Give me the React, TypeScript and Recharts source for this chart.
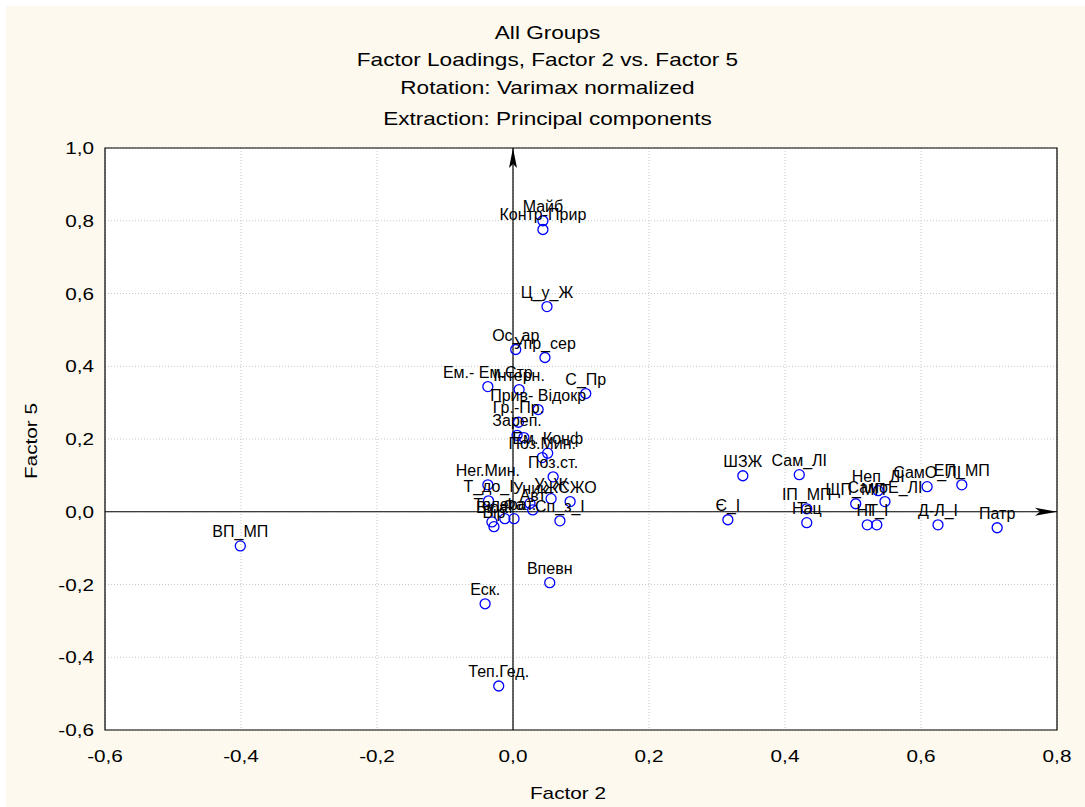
import {
  CartesianGrid,
  ReferenceArea,
  ReferenceLine,
  Scatter,
  ScatterChart,
  XAxis,
  YAxis,
} from "recharts";

// Variable names, Factor 2 loading (x), Factor 5 loading (y).
const names = [
  "Майб", "Контр-Прир", "Ц_у_Ж", "Ос_ар", "Упр_сер", "Ем.- Ем.Стр", "Інтерн.",
  "С_Пр", "Прив- Відокр", "Гр.-Пр.", "Зареп.", "", "Ем. Конф", "Поз.Мин.",
  "Поз.ст.", "Нег.Мин.", "Т_до_І", "У_Ж", "ЖСЖО", "Уник", "Авт", "Толерат.",
  "Фа", "Віра", "Вір", "Сп_з_І", "ВП_МП", "Еск.", "Впевн", "Теп.Гед.", "ШЗЖ",
  "Сам_ЛІ", "Є_І", "ІП_МП", "Нац", "ЩП_МП", "Неп_ЛІ", "СамоЕ_ЛІ", "СамО_ЛІ",
  "ЕП_МП", "НТ", "Т_І", "Д-Л_І", "Патр",
];
const factor2 = [
  0.044, 0.044, 0.05, 0.004, 0.047, -0.037, 0.009, 0.107, 0.037, 0.008, 0.006,
  0.016, 0.051, 0.043, 0.059, -0.037, -0.036, 0.056, 0.084, 0.025, 0.029,
  -0.012, 0.0015, -0.031, -0.028, 0.069, -0.401, -0.041, 0.054, -0.021, 0.338,
  0.421, 0.316, 0.432, 0.432, 0.504, 0.537, 0.547, 0.609, 0.66, 0.521, 0.535,
  0.625, 0.712,
];
const factor5 = [
  0.8, 0.776, 0.564, 0.446, 0.424, 0.344, 0.336, 0.325, 0.281, 0.246, 0.21,
  0.204, 0.161, 0.149, 0.096, 0.074, 0.03, 0.036, 0.028, 0.023, 0.005, -0.019,
  -0.019, -0.028, -0.041, -0.025, -0.094, -0.253, -0.195, -0.479, 0.099, 0.102,
  -0.022, 0.008, -0.03, 0.022, 0.058, 0.028, 0.069, 0.074, -0.036, -0.036,
  -0.036, -0.044,
];
const xTicks = [-0.6, -0.4, -0.2, 0, 0.2, 0.4, 0.6, 0.8];
const yTicks = [-0.6, -0.4, -0.2, 0, 0.2, 0.4, 0.6, 0.8, 1.0];
const titleLines = [
  "All Groups",
  "Factor Loadings, Factor 2 vs. Factor 5",
  "Rotation: Varimax normalized",
  "Extraction: Principal components",
];

const data = names.map((name, i) => ({ name, x: factor2[i], y: factor5[i] }));

const FONT = "'Liberation Sans', Arial, sans-serif";
const STRETCH = 1.22;
const fmt = (v: number) => v.toFixed(1).replace(".", ",");

const XTick = ({ x, y, payload }: any) => (
  <text
    transform={`translate(${x},${y + 30}) scale(${STRETCH},1)`}
    textAnchor="middle"
    fontSize={17}
    fontFamily={FONT}
    fill="#000"
  >
    {fmt(payload.value)}
  </text>
);

const YTick = ({ x, y, payload }: any) => (
  <text
    transform={`translate(${x - 9},${y + 6}) scale(${STRETCH},1)`}
    textAnchor="end"
    fontSize={17}
    fontFamily={FONT}
    fill="#000"
  >
    {fmt(payload.value)}
  </text>
);

// hollow blue marker with the variable name sitting just above it
const Ring = ({ cx, cy, payload }: any) => (
  <g>
    <circle cx={cx} cy={cy} r={5} fill="none" stroke="#0000ff" strokeWidth={1.3} />
    {payload.name ? (
      <text x={cx} y={cy - 9} textAnchor="middle" fontSize={16} fontFamily={FONT} fill="#000">
        {payload.name}
      </text>
    ) : null}
  </g>
);

// axis line through the origin with a thin arrowhead at its far end
const ArrowLine = ({ x1, y1, x2, y2 }: any) => {
  const vertical = Math.abs(x1 - x2) < 1;
  if (vertical) {
    const top = Math.min(y1, y2);
    const bot = Math.max(y1, y2);
    return (
      <g>
        <line x1={x1} y1={bot} x2={x1} y2={top} stroke="#000" strokeWidth={1.2} />
        <polygon points={`${x1},${top} ${x1 - 4},${top + 20} ${x1},${top + 16} ${x1 + 4},${top + 20}`} fill="#000" />
      </g>
    );
  }
  const left = Math.min(x1, x2);
  const right = Math.max(x1, x2);
  return (
    <g>
      <line x1={left} y1={y1} x2={right} y2={y1} stroke="#000" strokeWidth={1.2} />
      <polygon points={`${right},${y1} ${right - 22},${y1 - 4} ${right - 17},${y1} ${right - 22},${y1 + 4}`} fill="#000" />
    </g>
  );
};

export default function App() {
  return (
    <div style={{ position: "absolute", left: 0, top: 0, width: 1085, height: 807, background: "#fff" }}>
      <div style={{ position: "absolute", left: 6, top: 6, right: 0, bottom: 0, background: "#fdf9ee" }} />
      {titleLines.map((t, i) => (
        <div
          key={t}
          style={{
            position: "absolute",
            left: 0,
            width: 1095,
            top: [22, 49, 77, 108][i],
            textAlign: "center",
            fontFamily: FONT,
            fontSize: 18.5,
            lineHeight: "22px",
            color: "#000",
            transform: `scaleX(${STRETCH})`,
          }}
        >
          {t}
        </div>
      ))}
      <div
        style={{
          position: "absolute",
          left: 568 - 60,
          width: 120,
          top: 783,
          textAlign: "center",
          fontFamily: FONT,
          fontSize: 17,
          lineHeight: "22px",
          transform: `scaleX(${STRETCH})`,
        }}
      >
        Factor 2
      </div>
      <div
        style={{
          position: "absolute",
          left: 32 - 60,
          width: 120,
          top: 441 - 11,
          textAlign: "center",
          fontFamily: FONT,
          fontSize: 17,
          lineHeight: "22px",
          transform: `rotate(-90deg) scaleX(${STRETCH})`,
        }}
      >
        Factor 5
      </div>
      <div style={{ position: "absolute", left: 0, top: 0 }}>
        <ScatterChart width={1085} height={807} margin={{ top: 148, right: 28, bottom: 0, left: 0 }}>
          <CartesianGrid fill="#fff" stroke="#c8c8c8" strokeDasharray="1 2" />
          <XAxis
            type="number"
            dataKey="x"
            domain={[-0.6, 0.8]}
            ticks={xTicks}
            allowDataOverflow
            axisLine={false}
            tickLine={false}
            tickSize={0}
            height={77}
            tick={<XTick />}
          />
          <YAxis
            type="number"
            dataKey="y"
            domain={[-0.6, 1.0]}
            ticks={yTicks}
            allowDataOverflow
            axisLine={false}
            tickLine={false}
            tickSize={0}
            width={105}
            tick={<YTick />}
          />
          <ReferenceArea x1={-0.6} x2={0.8} y1={-0.6} y2={1.0} fill="none" stroke="#000" strokeWidth={1.2} />
          <ReferenceLine x={0} shape={<ArrowLine />} />
          <ReferenceLine y={0} shape={<ArrowLine />} />
          <Scatter data={data} shape={<Ring />} isAnimationActive={false} />
        </ScatterChart>
      </div>
    </div>
  );
}
